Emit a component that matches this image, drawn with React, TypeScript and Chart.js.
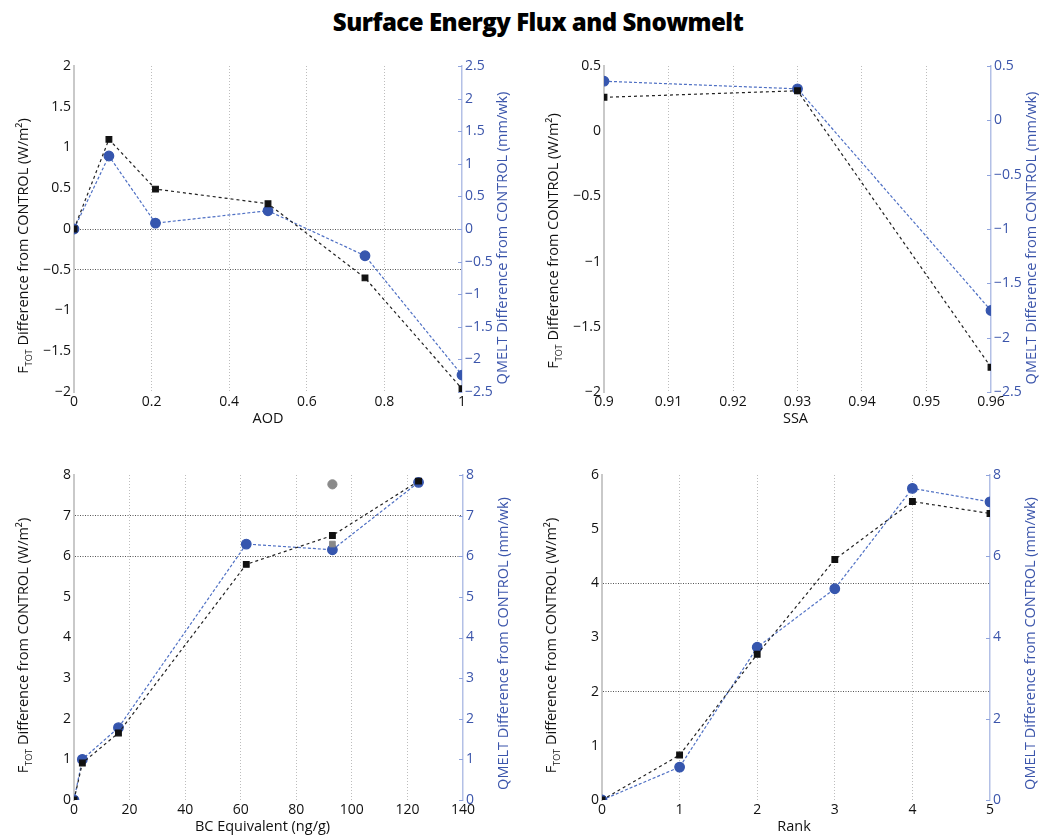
import React, { useEffect, useRef } from "react";
import { Chart, registerables } from "chart.js";
Chart.register(...registerables);

// ---------- DATA ----------
const aodX = [0, 0.09, 0.21, 0.5, 0.75, 1];
const aodFtot = [0, 1.1, 0.49, 0.31, -0.6, -1.96];
const aodQmelt = [0, 1.12, 0.09, 0.28, -0.41, -2.24];

const ssaX = [0.9, 0.93, 0.96];
const ssaFtot = [0.26, 0.31, -1.81];
const ssaQmelt = [0.36, 0.29, -1.75];

const bcX = [0, 3, 16, 62, 93, 124];
const bcFtot = [0, 0.91, 1.65, 5.8, 6.51, 7.85];
const bcQmelt = [0, 1.0, 1.78, 6.3, 6.16, 7.82];
const bcGreyX = [93];
const bcGreyFtot = [6.3];
const bcGreyQmelt = [7.77];

const rankX = [0, 1, 2, 3, 4, 5];
const rankFtot = [0, 0.83, 2.69, 4.44, 5.51, 5.29];
const rankQmelt = [0, 0.81, 3.76, 5.2, 7.67, 7.34];

const figTitle = "Surface Energy Flux and Snowmelt";
const leftTitleMain = " Difference from CONTROL (W/m²)";
const rightTitle = "QMELT Difference from CONTROL (mm/wk)";

const FONT = "'Open Sans', 'DejaVu Sans', sans-serif";
const BLACK = "#111";
const BLUE_MARK = "#3656ae";
const BLUE_LINE = "#4f70c4";
const BLUE_TEXT = "#3b55ab";

type Panel = {
  left: number; top: number; width: number; height: number;
  leftW: number; rightW: number; padTop: number; bottomH: number;
  xTitle: string;
  x: number[]; ftot: number[]; qmelt: number[];
  xMin: number; xMax: number; xStep: number;
  yMin: number; yMax: number; yStep: number;
  y1Min: number; y1Max: number; y1Step: number;
  hGrid: number[];
  leftShift: number; rightShift: number; xTitleShift: number;
  grey?: { x: number[]; ftot: number[]; qmelt: number[] };
};

const panels: Panel[] = [
  {
    left: 0, top: 45, width: 520, height: 390, leftW: 74, rightW: 58, padTop: 21, bottomH: 43,
    xTitle: "AOD", x: aodX, ftot: aodFtot, qmelt: aodQmelt,
    xMin: 0, xMax: 1, xStep: 0.2, yMin: -2, yMax: 2, yStep: 0.5, y1Min: -2.5, y1Max: 2.5, y1Step: 0.5,
    hGrid: [0, -0.5], leftShift: 11, rightShift: 9, xTitleShift: 0,
  },
  {
    left: 520, top: 45, width: 521, height: 390, leftW: 84, rightW: 50, padTop: 21, bottomH: 43,
    xTitle: "SSA", x: ssaX, ftot: ssaFtot, qmelt: ssaQmelt,
    xMin: 0.9, xMax: 0.96, xStep: 0.01, yMin: -2, yMax: 0.5, yStep: 0.5, y1Min: -2.5, y1Max: 0.5, y1Step: 0.5,
    hGrid: [], leftShift: 6, rightShift: 9, xTitleShift: -2,
  },
  {
    left: 0, top: 455, width: 520, height: 381, leftW: 74, rightW: 57, padTop: 20, bottomH: 36,
    xTitle: "BC Equivalent (ng/g)", x: bcX, ftot: bcFtot, qmelt: bcQmelt,
    xMin: 0, xMax: 140, xStep: 20, yMin: 0, yMax: 8, yStep: 1, y1Min: 0, y1Max: 8, y1Step: 1,
    hGrid: [6, 7], leftShift: 2, rightShift: 6, xTitleShift: -6,
    grey: { x: bcGreyX, ftot: bcGreyFtot, qmelt: bcGreyQmelt },
  },
  {
    left: 520, top: 455, width: 521, height: 381, leftW: 82, rightW: 51, padTop: 20, bottomH: 36,
    xTitle: "Rank", x: rankX, ftot: rankFtot, qmelt: rankQmelt,
    xMin: 0, xMax: 5, xStep: 1, yMin: 0, yMax: 6, yStep: 1, y1Min: 0, y1Max: 8, y1Step: 2,
    hGrid: [2, 4], leftShift: 2, rightShift: 6, xTitleShift: -2,
  },
];

const fmt = (v: number) => {
  const r = Math.round(v * 1000) / 1000;
  return String(r).replace("-", "−");
};

const near = (v: number, arr: number[]) => arr.some((a) => Math.abs(a - v) < 1e-6);

function makeTitlePlugin(p: Panel) {
  return {
    id: "customTitles",
    afterDraw(chart: any) {
      const { ctx, chartArea } = chart;
      const mid = (chartArea.top + chartArea.bottom) / 2;
      ctx.save();
      // right axis inward tick marks
      const y1 = chart.scales.y1;
      ctx.strokeStyle = "#8fa3dc";
      ctx.lineWidth = 1;
      y1.ticks.forEach((t: any) => {
        const py = Math.round(y1.getPixelForValue(t.value)) + 0.5;
        ctx.beginPath();
        ctx.moveTo(chartArea.right - 4, py);
        ctx.lineTo(chartArea.right, py);
        ctx.stroke();
      });
      // left title with subscript
      ctx.fillStyle = "#111";
      ctx.textBaseline = "alphabetic";
      ctx.textAlign = "left";
      const big = `14.5px ${FONT}`;
      const small = `9px ${FONT}`;
      ctx.font = big;
      const wF = ctx.measureText("F").width;
      const wMain = ctx.measureText(leftTitleMain).width;
      ctx.font = small;
      const wSub = ctx.measureText("TOT").width;
      const total = wF + wSub + wMain;
      ctx.save();
      ctx.translate(p.leftW - 51, mid + 6 + p.leftShift);
      ctx.rotate(-Math.PI / 2);
      let x0 = -total / 2;
      ctx.font = big;
      ctx.fillText("F", x0, 5);
      x0 += wF;
      ctx.font = small;
      ctx.fillText("TOT", x0, 9);
      x0 += wSub;
      ctx.font = big;
      ctx.fillText(leftTitleMain, x0, 5);
      ctx.restore();
      // right title
      ctx.save();
      ctx.fillStyle = BLUE_TEXT;
      ctx.font = big;
      ctx.textAlign = "center";
      ctx.textBaseline = "middle";
      ctx.translate(chartArea.right + 41, mid + p.rightShift);
      ctx.rotate(-Math.PI / 2);
      ctx.fillText(rightTitle, 0, 0);
      ctx.restore();
      // x title
      ctx.fillStyle = "#111";
      ctx.font = big;
      ctx.textAlign = "center";
      ctx.textBaseline = "middle";
      ctx.fillText(p.xTitle, (chartArea.left + chartArea.right) / 2 + p.xTitleShift, chartArea.bottom + 27);
      ctx.restore();
    },
  };
}

function buildConfig(p: Panel): any {
  const pts = (xs: number[], ys: number[]) => xs.map((x, i) => ({ x, y: ys[i] }));
  const datasets: any[] = [];
  if (p.grey) {
    datasets.push({
      data: pts(p.grey.x, p.grey.ftot), yAxisID: "y", showLine: false,
      pointStyle: "rect", pointRadius: 4, pointBackgroundColor: "#888", pointBorderColor: "#888",
    });
    datasets.push({
      data: pts(p.grey.x, p.grey.qmelt), yAxisID: "y1", showLine: false,
      pointStyle: "circle", pointRadius: 4.6, pointBackgroundColor: "#8a8a8a", pointBorderColor: "#8a8a8a",
    });
  }
  datasets.push({
    data: pts(p.x, p.ftot), yAxisID: "y",
    borderColor: "#222", borderWidth: 1.2, borderDash: [3, 3],
    pointStyle: "rect", pointRadius: 4, pointBackgroundColor: BLACK, pointBorderColor: BLACK,
  });
  datasets.push({
    data: pts(p.x, p.qmelt), yAxisID: "y1",
    borderColor: BLUE_LINE, borderWidth: 1.2, borderDash: [3, 2],
    pointStyle: "circle", pointRadius: 4.8, pointBackgroundColor: BLUE_MARK, pointBorderColor: BLUE_MARK,
  });
  const tickFont = { family: FONT, size: 14 };
  return {
    type: "line",
    data: { datasets },
    plugins: [makeTitlePlugin(p)],
    options: {
      animation: false,
      responsive: false,
      maintainAspectRatio: false,
      layout: { padding: { top: p.padTop, left: 0, right: 0, bottom: 0 } },
      plugins: { legend: { display: false }, tooltip: { enabled: false }, title: { display: false } },
      elements: { line: { tension: 0, fill: false } },
      scales: {
        x: {
          type: "linear", min: p.xMin, max: p.xMax,
          ticks: { stepSize: p.xStep, font: tickFont, color: "#111", padding: 2, maxRotation: 0, autoSkip: false, callback: (v: number) => fmt(v) },
          grid: {
            drawTicks: false, lineWidth: 1,
            color: (c: any) => {
              const v = c.tick?.value;
              if (v === undefined) return "transparent";
              return Math.abs(v - p.xMin) < 1e-9 || Math.abs(v - p.xMax) < 1e-9 ? "transparent" : "#bdbdbd";
            },
          },
          border: { display: false, dash: [1, 2] },
          afterFit: (s: any) => { s.height = p.bottomH; },
        },
        y: {
          type: "linear", position: "left", min: p.yMin, max: p.yMax,
          ticks: { stepSize: p.yStep, font: tickFont, color: "#111", padding: 3, callback: (v: number) => fmt(v) },
          grid: {
            drawTicks: false, lineWidth: 1,
            color: (c: any) => {
              const v = c.tick?.value;
              return v !== undefined && near(v, p.hGrid) ? "#555" : "transparent";
            },
          },
          border: { display: true, color: "#c9c9c9", width: 2, dash: [1, 1.5] },
          afterFit: (s: any) => { s.width = p.leftW; },
        },
        y1: {
          type: "linear", position: "right", min: p.y1Min, max: p.y1Max,
          ticks: { stepSize: p.y1Step, font: tickFont, color: BLUE_TEXT, padding: 3, callback: (v: number) => fmt(v) },
          grid: { drawOnChartArea: false, drawTicks: false },
          border: { display: true, color: "#b3c0e6", width: 1.5 },
          afterFit: (s: any) => { s.width = p.rightW; },
        },
      },
    },
  };
}

function PanelChart({ p }: { p: Panel }) {
  const ref = useRef<HTMLCanvasElement | null>(null);
  useEffect(() => {
    if (!ref.current) return;
    const chart = new Chart(ref.current, buildConfig(p));
    return () => chart.destroy();
  }, [p]);
  return (
    <canvas
      ref={ref}
      width={p.width}
      height={p.height}
      style={{ position: "absolute", left: p.left, top: p.top, width: p.width, height: p.height }}
    />
  );
}

export default function App() {
  return (
    <div style={{ position: "absolute", left: 0, top: 0, width: 1041, height: 836, background: "#fff", overflow: "hidden" }}>
      <div
        style={{
          position: "absolute", left: 0, top: 5, width: 1076, textAlign: "center",
          fontFamily: FONT, fontWeight: 800, fontSize: 24, letterSpacing: -0.5, color: "#000",
        }}
      >
        {figTitle}
      </div>
      {panels.map((p, i) => (
        <PanelChart key={i} p={p} />
      ))}
    </div>
  );
}
